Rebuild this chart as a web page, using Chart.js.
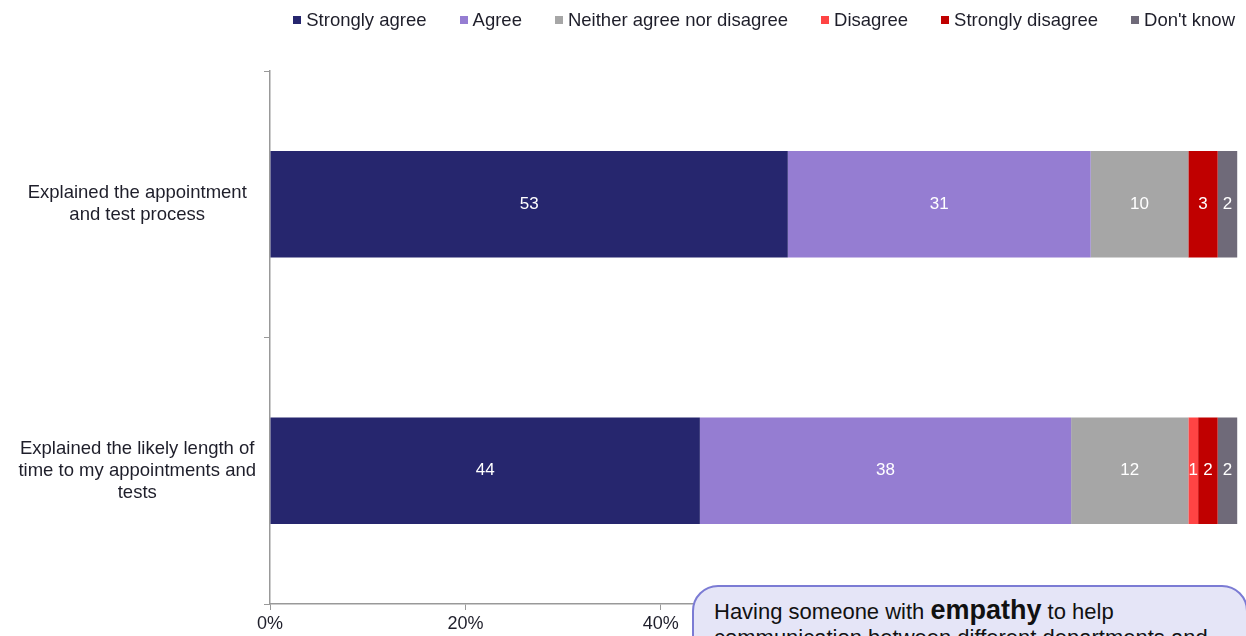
<!DOCTYPE html>
<html>
<head>
<meta charset="utf-8">
<script src="https://cdn.jsdelivr.net/npm/chart.js@4/dist/chart.umd.min.js"></script>
<style>
  body { margin: 0; width: 1246px; height: 636px; overflow: hidden; background: #fff; position: relative;
         font-family: "Liberation Sans", Arial, sans-serif; }
  #wrap { position: absolute; left: 0; top: 0; width: 1273px; height: 644px; }
  #legend { position: absolute; top: 9px; right: 11px; display: flex; font-size: 18.5px; color: #1e1e2a; white-space: nowrap; }
  #legend .item { display: flex; align-items: center; margin-left: 33px; }
  #legend .item:first-child { margin-left: 0; }
  #legend .box { width: 8px; height: 8px; margin-right: 5px; }
  #note { position: absolute; left: 692px; top: 585px; width: 512px; height: 140px;
          padding: 12px 20px; border: 2px solid #7b7bd4; border-radius: 26px;
          background: #e5e5f7; font-size: 22px; line-height: 26px; color: #111; }
  #note b { font-size: 27px; line-height: 20px; }
</style>
</head>
<body>
<div id="wrap"><canvas id="chart"></canvas></div>
<div id="legend"></div>
<div id="note">Having someone with <b>empathy</b> to help communication between different departments and teams</div>
<script>
const categories = [
  ['Explained the appointment', 'and test process'],
  ['Explained the likely length of', 'time to my appointments and', 'tests']
];
const seriesNames = ['Strongly agree', 'Agree', 'Neither agree nor disagree', 'Disagree', 'Strongly disagree', "Don't know"];
const seriesColors = ['#26266e', '#957dd2', '#a6a6a6', '#ff4444', '#c00000', '#6f6a79'];

const stronglyAgree = [53, 44];
const agree = [31, 38];
const neither = [10, 12];
const disagree = [0, 1];
const stronglyDisagree = [3, 2];
const dontKnow = [2, 2];

const xMin = 0, xMax = 100, xStep = 20;

const seriesValues = [stronglyAgree, agree, neither, disagree, stronglyDisagree, dontKnow];

// legend row
const legendEl = document.getElementById('legend');
seriesNames.forEach((name, i) => {
  const item = document.createElement('div');
  item.className = 'item';
  item.innerHTML = '<span class="box" style="background:' + seriesColors[i] + '"></span>' + name;
  legendEl.appendChild(item);
});

// white value labels in the middle of each segment
const segmentLabels = {
  id: 'segmentLabels',
  afterDatasetsDraw(chart) {
    const ctx = chart.ctx;
    ctx.save();
    ctx.fillStyle = '#ffffff';
    ctx.font = '17px "Liberation Sans", Arial, sans-serif';
    ctx.textAlign = 'center';
    ctx.textBaseline = 'middle';
    chart.data.datasets.forEach((ds, di) => {
      chart.getDatasetMeta(di).data.forEach((bar, i) => {
        const v = ds.data[i];
        if (!v) return;
        const p = bar.getCenterPoint();
        ctx.fillText(v, p.x, p.y);
      });
    });
    ctx.restore();
  }
};

const tickFont = { family: '"Liberation Sans", Arial, sans-serif', size: 18 };

new Chart(document.getElementById('chart'), {
  type: 'bar',
  data: {
    labels: categories,
    datasets: seriesNames.map((name, i) => ({
      label: name,
      data: seriesValues[i],
      backgroundColor: seriesColors[i],
      borderWidth: 0,
      categoryPercentage: 1,
      barPercentage: 0.4
    }))
  },
  options: {
    indexAxis: 'y',
    responsive: true,
    maintainAspectRatio: false,
    animation: false,
    layout: { padding: { top: 71, right: 19, left: 0, bottom: 0 } },
    scales: {
      x: {
        stacked: true,
        min: xMin,
        max: xMax,
        ticks: { stepSize: xStep, callback: v => v + '%', color: '#1e1e2a', font: tickFont, padding: 3 },
        grid: { drawOnChartArea: false, tickLength: 6, color: '#999' },
        border: { color: '#999', width: 1.5 },
        afterFit: s => { s.height = 40; }
      },
      y: {
        stacked: true,
        ticks: { color: '#1e1e2a', font: { ...tickFont, size: 18.5, lineHeight: 1.2 }, crossAlign: 'center', padding: 8 },
        grid: { drawOnChartArea: false, tickLength: 6, color: '#999' },
        border: { color: '#999', width: 1.5 },
        afterFit: s => { s.width = 270; }
      }
    },
    plugins: {
      legend: { display: false },
      tooltip: { enabled: false }
    }
  },
  plugins: [segmentLabels]
});
</script>
</body>
</html>
